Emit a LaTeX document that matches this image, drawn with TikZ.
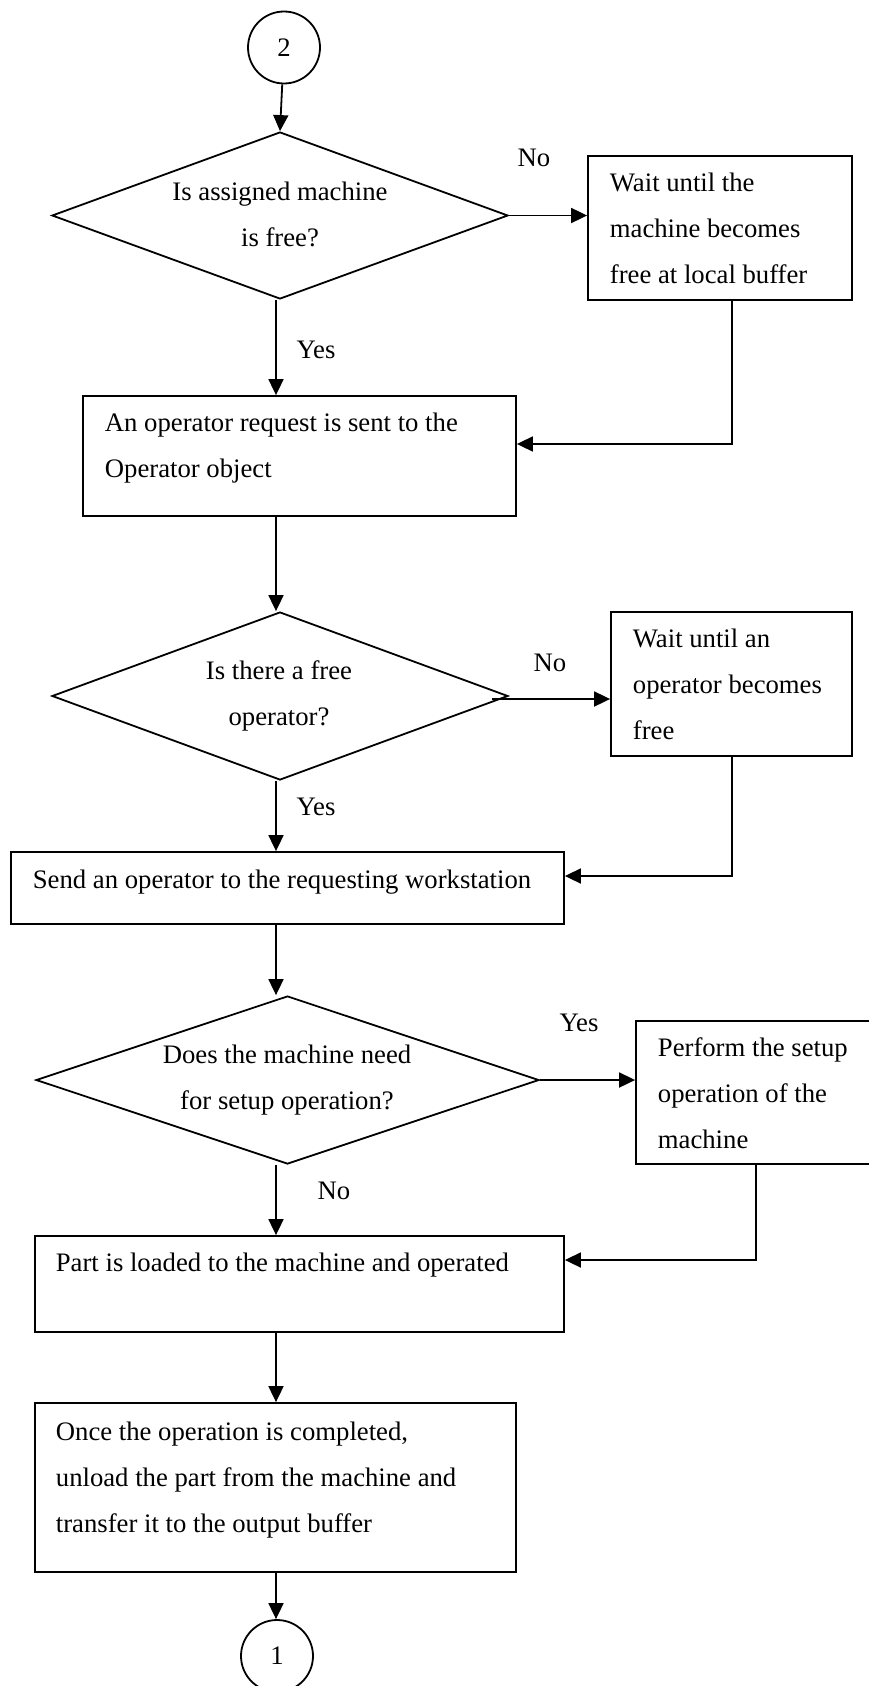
\documentclass[tikz,border=0pt]{standalone}
\usepackage{fontspec}
\setmainfont{Liberation Serif}
\usetikzlibrary{arrows.meta,shapes.geometric}

\tikzset{
  txt/.style={font=\fontsize{26.7}{46}\selectfont, inner sep=0pt},
  proc/.style={draw, rectangle, inner sep=0pt},
  decide/.style={draw, diamond, inner sep=0pt},
  conn/.style={draw, circle, inner sep=0pt, minimum size=72pt, font=\fontsize{26.7}{32}\selectfont},
  arr/.style={-{Triangle[length=16pt,width=15pt]}}
}

\begin{document}
\begin{tikzpicture}[x=1pt, y=-1pt, line width=1.8pt]
\useasboundingbox (0,0) rectangle (869,1686);
\clip (0,0) rectangle (869,1686);

% connectors at the ends of the page
\node[conn] (c2) at (284,47.5) {2};
\node[conn] (c1) at (277,1656) {1};

% decisions
\node[decide, minimum width=456pt, minimum height=167pt] (d1) at (280,215.5) {};
\node[decide, minimum width=456pt, minimum height=168pt] (d2) at (280,696) {};
\node[decide, minimum width=503pt, minimum height=168pt] (d3) at (287.5,1080) {};

% process boxes
\node[proc, minimum width=264pt, minimum height=144pt] (w1) at (720,228) {};
\node[proc, minimum width=433pt, minimum height=120pt] (b1) at (299.5,456) {};
\node[proc, minimum width=241pt, minimum height=144pt] (w2) at (731.5,684) {};
\node[proc, minimum width=553pt, minimum height=72pt]  (b3) at (287.5,888) {};
\node[proc, minimum width=264pt, minimum height=143pt] (w3) at (768,1092.5) {};
\node[proc, minimum width=529pt, minimum height=96pt]  (b5) at (299.5,1284) {};
\node[proc, minimum width=481pt, minimum height=169pt] (b6) at (275.5,1487.5) {};

% texts
\node[txt, anchor=base] (td1) at (280,200) {\parbox[t]{420pt}{\centering Is assigned machine\\is free?}};
\node[txt, anchor=base] (td2) at (279,679) {\parbox[t]{420pt}{\centering Is there a free\\operator?}};
\node[txt, anchor=base] (td3) at (287,1063) {\parbox[t]{460pt}{\centering Does the machine need\\for setup operation?}};

\node[txt, anchor=base west] (tw1) at (609,191) {\parbox[t]{250pt}{\raggedright Wait until the\\machine becomes\\free at local buffer}};
\node[txt, anchor=base west] (tb1) at (104,431) {\parbox[t]{420pt}{\raggedright An operator request is sent to the\\Operator object}};
\node[txt, anchor=base west] (tw2) at (632,647) {\parbox[t]{230pt}{\raggedright Wait until an\\operator becomes\\free}};
\node[txt, anchor=base west] (tb3) at (32,888) {Send an operator to the requesting workstation};
\node[txt, anchor=base west] (tw3) at (657,1056) {\parbox[t]{230pt}{\raggedright Perform the setup\\operation of the\\machine}};
\node[txt, anchor=base west] (tb5) at (55,1271) {Part is loaded to the machine and operated};
\node[txt, anchor=base west] (tb6) at (55,1440) {\parbox[t]{470pt}{\raggedright Once the operation is completed,\\unload the part from the machine and\\transfer it to the output buffer}};

% branch labels
\node[txt] (n1) at (534,158) {No};
\node[txt] (y1) at (316,350) {Yes};
\node[txt] (n2) at (550,663) {No};
\node[txt] (y2) at (316,807) {Yes};
\node[txt] (y3) at (579,1023) {Yes};
\node[txt] (n3) at (334,1191) {No};

% routing points
\coordinate (sp) at (276,0);
\coordinate (j1) at (732,444);
\coordinate (j2) at (732,876);
\coordinate (j3) at (756,1260);
\coordinate (s2) at (492,699);

% main flow
\draw[arr] (c2) -- (d1.north);
\draw[arr] (d1.south -| sp) -- (b1.north -| sp);
\draw[arr] (b1.south -| sp) -- (d2.north -| sp);
\draw[arr] (d2.south -| sp) -- (b3.north -| sp);
\draw[arr] (b3.south -| sp) -- (d3.north -| sp);
\draw[arr] (d3.south -| sp) -- (b5.north -| sp);
\draw[arr] (b5.south -| sp) -- (b6.north -| sp);
\draw[arr] (b6.south -| sp) -- (c1.north -| sp);

% side branches
\draw[arr] (d1.east) -- (w1.west |- d1.east);
\draw[arr] (w1.south -| j1) |- (b1.east |- j1);
\draw[arr] (s2) -- (w2.west |- s2);
\draw[arr] (w2.south -| j2) |- (b3.east |- j2);
\draw[arr] (d3.east) -- (w3.west |- d3.east);
\draw[arr] (w3.south -| j3) |- (b5.east |- j3);
\end{tikzpicture}
\end{document}
